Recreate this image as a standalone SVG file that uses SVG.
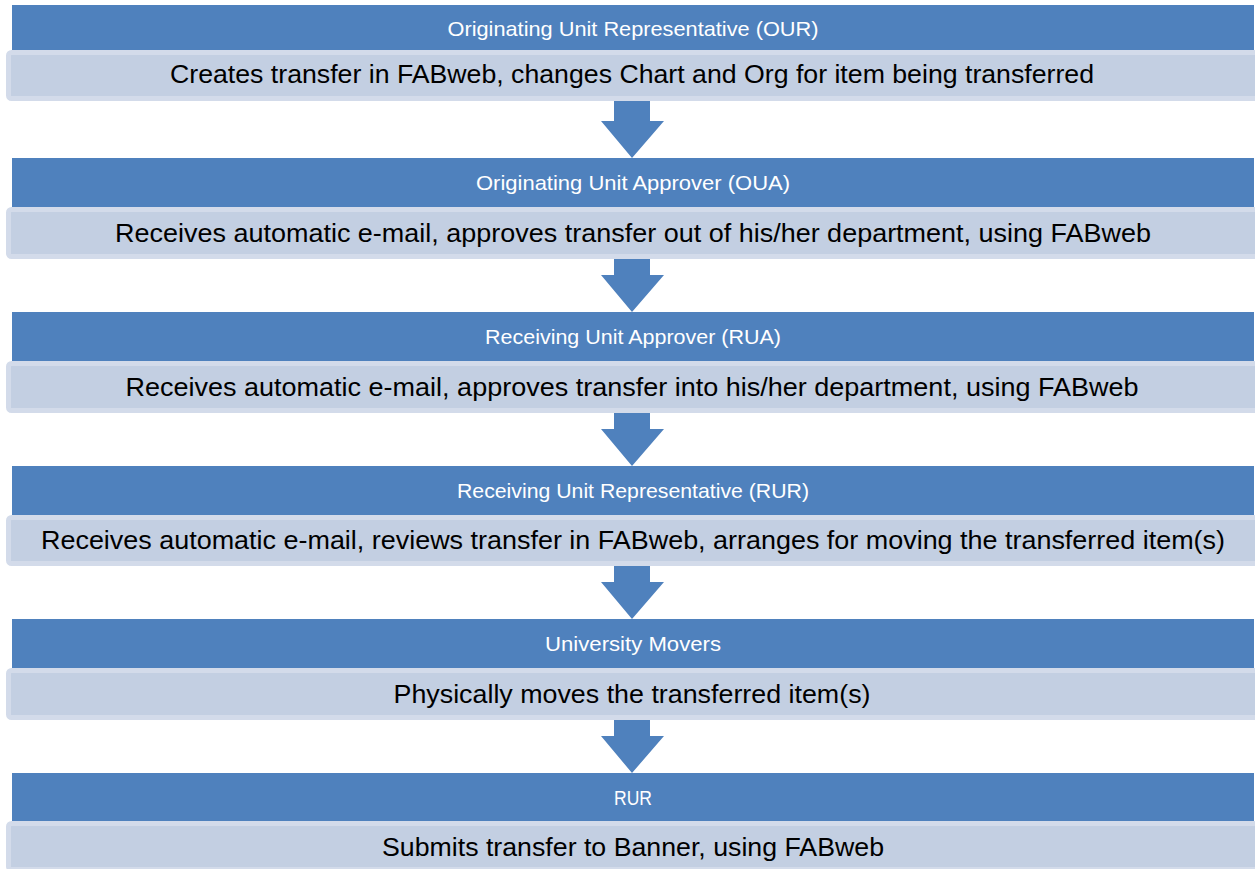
<svg xmlns="http://www.w3.org/2000/svg" width="1255" height="869" viewBox="0 0 1255 869">
<style>
.hdr{fill:#4F81BD}
.body{fill:#C3CFE2;stroke:#D3DBEA;stroke-width:5}
.ht{font-family:"Liberation Sans",Arial,sans-serif;font-size:21px;fill:#FFFFFF;text-anchor:middle}
.bt{font-family:"Liberation Sans",Arial,sans-serif;font-size:26px;fill:#000000;text-anchor:middle}
.arr{fill:#4F81BD}
</style>
<rect width="1255" height="869" fill="#FFFFFF"/>
<g id="connectors">
<polygon class="arr" points="614,101 650,101 650,121 664,121 632,158 601,121 614,121"/>
<polygon class="arr" points="614,259 650,259 650,275 664,275 632,312 601,275 614,275"/>
<polygon class="arr" points="614,413 650,413 650,429 664,429 632,466 601,429 614,429"/>
<polygon class="arr" points="614,566 650,566 650,582 664,582 632,619 601,582 614,582"/>
<polygon class="arr" points="614,720 650,720 650,736 664,736 632,773 601,736 614,736"/>
</g>
<g id="stage1">
<rect class="body" x="8.5" y="52.5" width="1252" height="46" rx="3"/>
<rect class="hdr" x="12" y="5" width="1242" height="45"/>
<text class="ht" x="633" y="36" textLength="371" lengthAdjust="spacingAndGlyphs">Originating Unit Representative (OUR)</text>
<text class="bt" x="632" y="83" textLength="924" lengthAdjust="spacingAndGlyphs">Creates transfer in FABweb, changes Chart and Org for item being transferred</text>
</g>
<g id="stage2">
<rect class="body" x="8.5" y="209.5" width="1252" height="47" rx="3"/>
<rect class="hdr" x="12" y="158" width="1242" height="49"/>
<text class="ht" x="633" y="190" textLength="314" lengthAdjust="spacingAndGlyphs">Originating Unit Approver (OUA)</text>
<text class="bt" x="633" y="242" textLength="1036" lengthAdjust="spacingAndGlyphs">Receives automatic e-mail, approves transfer out of his/her department, using FABweb</text>
</g>
<g id="stage3">
<rect class="body" x="8.5" y="363.5" width="1252" height="47" rx="3"/>
<rect class="hdr" x="12" y="312" width="1242" height="49"/>
<text class="ht" x="633" y="344" textLength="296" lengthAdjust="spacingAndGlyphs">Receiving Unit Approver (RUA)</text>
<text class="bt" x="632" y="396" textLength="1013" lengthAdjust="spacingAndGlyphs">Receives automatic e-mail, approves transfer into his/her department, using FABweb</text>
</g>
<g id="stage4">
<rect class="body" x="8.5" y="517.5" width="1252" height="46" rx="3"/>
<rect class="hdr" x="12" y="466" width="1242" height="49"/>
<text class="ht" x="633" y="498" textLength="352" lengthAdjust="spacingAndGlyphs">Receiving Unit Representative (RUR)</text>
<text class="bt" x="633" y="549" textLength="1184" lengthAdjust="spacingAndGlyphs">Receives automatic e-mail, reviews transfer in FABweb, arranges for moving the transferred item(s)</text>
</g>
<g id="stage5">
<rect class="body" x="8.5" y="670.5" width="1252" height="47" rx="3"/>
<rect class="hdr" x="12" y="619" width="1242" height="49"/>
<text class="ht" x="633" y="651" textLength="176" lengthAdjust="spacingAndGlyphs">University Movers</text>
<text class="bt" x="632" y="703" textLength="477" lengthAdjust="spacingAndGlyphs">Physically moves the transferred item(s)</text>
</g>
<g id="stage6">
<rect class="body" x="8.5" y="823.5" width="1252" height="46" rx="3"/>
<rect class="hdr" x="12" y="773" width="1242" height="48"/>
<text class="ht" x="633" y="805" textLength="38" lengthAdjust="spacingAndGlyphs">RUR</text>
<text class="bt" x="633" y="856" textLength="502" lengthAdjust="spacingAndGlyphs">Submits transfer to Banner, using FABweb</text>
</g>
</svg>
